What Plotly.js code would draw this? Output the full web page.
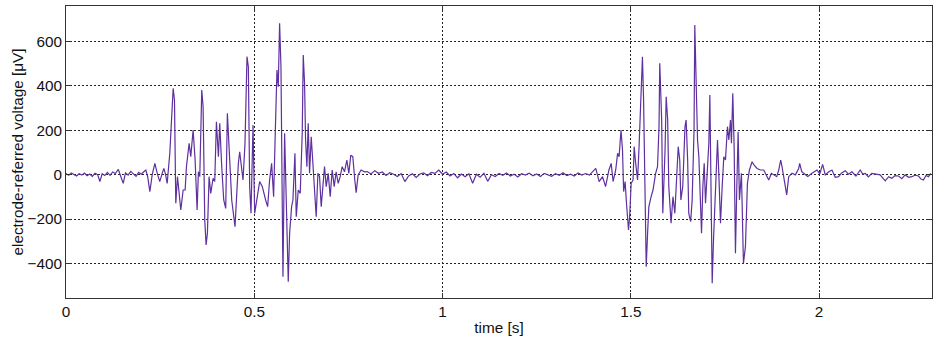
<!DOCTYPE html>
<html>
<head>
<meta charset="utf-8">
<script src="https://cdn.plot.ly/plotly-3.0.1.min.js"></script>
<style>html,body{margin:0;padding:0;background:#fff;}#chart{width:940px;height:343px;}</style>
</head>
<body>
<div id="chart"></div>
<script>
// quiet baseline before first burst
const quietStartT = [0, 0.007, 0.014, 0.021, 0.028, 0.035, 0.042, 0.049, 0.056, 0.063, 0.070, 0.077, 0.084, 0.090, 0.096, 0.103, 0.110, 0.117, 0.124, 0.131, 0.139, 0.145, 0.152, 0.158, 0.165, 0.172, 0.179, 0.186, 0.193, 0.200, 0.206, 0.212, 0.217];
const quietStartV = [5, -3, 8, 2, -6, 4, -2, 7, -5, 3, -8, 6, 0, -31, 4, -4, 10, -3, 12, 5, 24, -6, -39, 8, -2, 15, 3, -8, 10, 2, 12, 21, -10];

// first burst
const burst1T = [0.2227, 0.229, 0.236, 0.2425, 0.249, 0.2545, 0.2598, 0.264, 0.2687, 0.2757, 0.2846, 0.2881, 0.2916, 0.2961, 0.3005, 0.3049, 0.3111, 0.3164, 0.3199, 0.3270, 0.3314, 0.3376, 0.3429, 0.3482, 0.3517, 0.3553, 0.3606, 0.3641, 0.3685, 0.3721, 0.3756, 0.3800, 0.3844, 0.3906, 0.3950, 0.3995, 0.4048, 0.4083, 0.4136, 0.4189, 0.4242, 0.4286, 0.4348, 0.4401, 0.4489, 0.4525, 0.4578, 0.4613, 0.4657, 0.4701, 0.4754, 0.4807, 0.4843, 0.4878, 0.4913, 0.4967, 0.5011, 0.5055, 0.5143, 0.5214, 0.5249, 0.5302, 0.5355, 0.5408, 0.5461, 0.5514, 0.5567, 0.5603, 0.5638, 0.5673, 0.5709, 0.5735, 0.5762, 0.5806, 0.5850, 0.5903, 0.5939, 0.5992, 0.6027, 0.6080, 0.6115, 0.6168, 0.6221, 0.6274, 0.6301, 0.6336, 0.6363, 0.6398, 0.6433, 0.6469, 0.6513, 0.6557, 0.6601, 0.6645, 0.6690, 0.6734, 0.6778, 0.6822, 0.6866, 0.6911, 0.6964, 0.7017, 0.7070, 0.7123, 0.7176, 0.7229, 0.7282, 0.7335, 0.7397, 0.7459, 0.7511, 0.7564, 0.7617, 0.7670, 0.7706, 0.7759, 0.7838, 0.7927];
const burst1V = [-76, 0, 51, 5, -31, 0, 28, 5, -39, 96, 388, 336, -129, -9, -99, -159, -69, -69, 36, 141, 81, 201, 66, -159, 13, -9, 381, 306, -204, -316, -264, -9, -84, -16, -31, 238, 81, 231, 36, -114, -152, 276, 66, -114, -234, -114, 51, 103, 51, -24, 141, 531, 486, -54, -174, 224, -174, -129, -31, -54, -84, -114, -144, -24, 51, -99, 246, 471, 396, 681, 486, -234, -459, 186, -189, -482, -264, -144, -114, 96, -189, -69, -84, 186, 538, 411, 156, 36, 231, 6, 171, 36, -54, -189, 6, -9, -144, -54, 36, -54, 6, -99, 21, -54, 13, -39, -9, 36, 13, 66, 6, 88, 81, -24, -81, -1, 21, 13];

// quiet baseline between bursts
const quietMidT = [0.80, 0.81, 0.82, 0.83, 0.84, 0.85, 0.86, 0.87, 0.88, 0.89, 0.90, 0.91, 0.92, 0.93, 0.94, 0.95, 0.96, 0.97, 0.98, 0.99, 1.00, 1.01, 1.02, 1.03, 1.04, 1.05, 1.06, 1.07, 1.08, 1.09, 1.10, 1.11, 1.12, 1.13, 1.14, 1.15, 1.16, 1.17, 1.18, 1.19, 1.20, 1.21, 1.22, 1.23, 1.24, 1.25, 1.26, 1.27, 1.28, 1.29, 1.30, 1.31, 1.32, 1.33, 1.34, 1.35, 1.36, 1.37, 1.38, 1.39];
const quietMidV = [14, 3, 18, 6, 12, -4, 9, 2, -8, 5, -31, -6, 4, -12, 3, 8, -5, 10, 6, 21, 2, 12, -6, 5, -14, 3, -9, 4, -39, 2, -11, 6, -30, 0, -8, 5, -3, 8, -6, 2, -10, 4, -2, 7, -5, 3, -8, 6, 1, -7, 4, -3, 9, -4, 2, -6, 8, -2, 5, -2];

// second burst
const burst2T = [1.407, 1.416, 1.425, 1.433, 1.442, 1.448, 1.453, 1.460, 1.465, 1.469, 1.474, 1.478, 1.481, 1.485, 1.488, 1.494, 1.497, 1.501, 1.506, 1.509, 1.513, 1.518, 1.522, 1.527, 1.531, 1.534, 1.538, 1.541, 1.545, 1.548, 1.554, 1.559, 1.566, 1.571, 1.575, 1.577, 1.582, 1.585, 1.591, 1.594, 1.598, 1.601, 1.607, 1.612, 1.617, 1.621, 1.626, 1.630, 1.633, 1.638, 1.644, 1.647, 1.651, 1.654, 1.659, 1.663, 1.668, 1.670, 1.6737, 1.6773, 1.6808, 1.6843, 1.6879, 1.6914, 1.6950, 1.6985, 1.7038, 1.7073, 1.7100, 1.7126, 1.7162, 1.7197, 1.7232, 1.7268, 1.7303, 1.7338, 1.7383, 1.7427, 1.7471, 1.7515, 1.7568, 1.7604, 1.7648, 1.7674, 1.7709, 1.7745, 1.7780, 1.7816, 1.7851, 1.7886, 1.7939, 1.7992, 1.8045, 1.8098, 1.8151, 1.8222, 1.8275, 1.8355, 1.8443, 1.8531, 1.8593, 1.8664, 1.8735, 1.8805, 1.8876, 1.8929, 1.8982, 1.9017, 1.9070, 1.9141, 1.9194, 1.9282, 1.9371, 1.9459];
const burst2V = [28, -31, -9, -54, 21, 51, -31, 21, 96, 81, 201, 111, -76, -31, -114, -249, -189, -39, -24, 126, 51, -24, 126, 411, 531, 336, -54, -414, -249, -144, -99, -69, 6, 36, 216, 501, 246, -174, 111, 351, 246, -54, -219, -99, -174, -54, 126, 66, -114, -54, 216, 246, 66, -174, -211, -114, 201, 673, 411, 156, 81, -114, -264, -54, 51, -129, 81, 141, 358, 81, -489, -294, -129, 6, 156, 6, -219, -54, 81, 66, 216, 156, 246, 141, 366, 126, -354, -54, 193, -114, 6, -399, -324, -39, 21, 58, 43, 28, 21, 21, -1, -24, 6, -1, -9, 21, 66, 36, -24, -91, -9, 6, -1, 28];

// quiet tail after second burst
const tailT = [1.9486, 1.9540, 1.9592, 1.9700, 1.9813, 1.9880, 1.9945, 2.0020, 2.0095, 2.0166, 2.0250, 2.0343, 2.0430, 2.0520, 2.0600, 2.0697, 2.0780, 2.0873, 2.0980, 2.1094, 2.1160, 2.1227, 2.1310, 2.1403, 2.1500, 2.1624, 2.1690, 2.1757, 2.1850, 2.1934, 2.2020, 2.2110, 2.2200, 2.2287, 2.2380, 2.2464, 2.2550, 2.2641, 2.2710, 2.2773, 2.2840, 2.2906, 2.2968];
const tailV = [51, 14, 6, -8, 6, 12, 21, 4, 46, -1, 12, 21, -12, -9, 8, 18, 2, 13, -6, 21, 3, 6, -10, 6, 2, -1, -14, -28, -9, -16, -4, -6, -18, -1, -12, -9, -2, -6, -20, -24, -4, -9, 6];

const tickLabelsX = ['0', '0.5', '1', '1.5', '2'];
const tickValsX = [0, 0.5, 1, 1.5, 2];
const tickValsY = [-400, -200, 0, 200, 400, 600];

const t = [].concat(quietStartT, burst1T, quietMidT, burst2T, tailT);
const v = [].concat(quietStartV, burst1V, quietMidV, burst2V, tailV);

const font = {family: '"Liberation Sans", Arial, sans-serif', size: 15.3, color: '#111'};

const trace = {
  x: t, y: v, type: 'scatter', mode: 'lines',
  line: {color: '#5f30a0', width: 1.2},
  hoverinfo: 'skip'
};

const axisCommon = {
  showline: true, linecolor: '#333', linewidth: 1, mirror: 'ticks',
  ticks: 'inside', ticklen: 5, tickcolor: '#333',
  showgrid: true, gridcolor: '#222', griddash: '2px,2px', gridwidth: 1,
  zeroline: false, tickfont: font
};

const layout = {
  width: 940, height: 343,
  margin: {l: 66, r: 8, t: 6, b: 45},
  paper_bgcolor: '#fff', plot_bgcolor: '#fff',
  showlegend: false, font: font,
  xaxis: Object.assign({}, axisCommon, {
    range: [0, 2.3], tickvals: tickValsX, ticktext: tickLabelsX,
    title: {text: 'time [s]', font: font, standoff: 2}
  }),
  yaxis: Object.assign({}, axisCommon, {
    range: [-555, 759], tickvals: tickValsY,
    title: {text: 'electrode-referred voltage [μV]', font: font, standoff: 0}
  })
};

Plotly.newPlot('chart', [trace], layout, {staticPlot: true, displayModeBar: false});
</script>
</body>
</html>
